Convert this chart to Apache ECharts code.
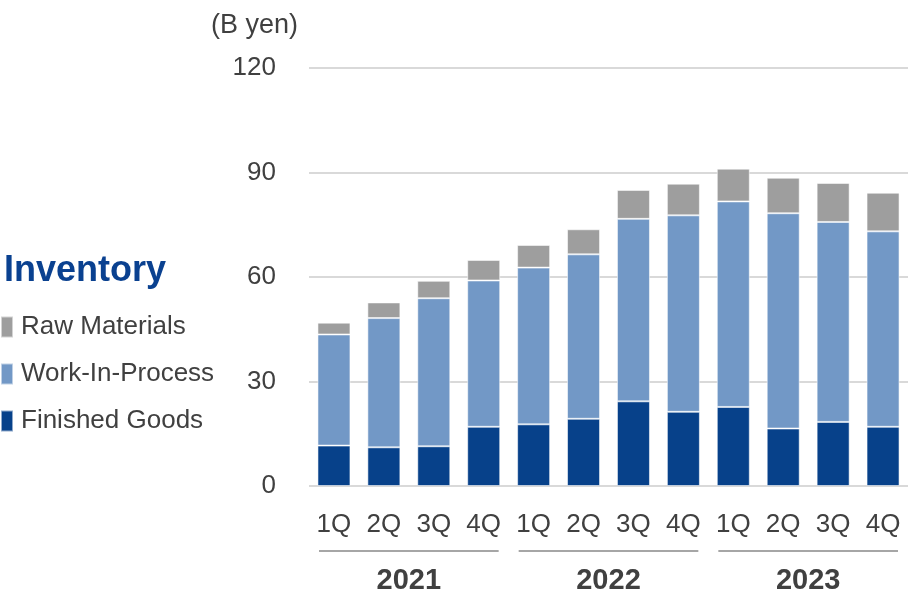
<!DOCTYPE html>
<html>
<head>
<meta charset="utf-8">
<script src="https://cdn.jsdelivr.net/npm/echarts@6/dist/echarts.min.js"></script>
<style>
  html, body { margin: 0; padding: 0; background: #ffffff; }
  #chart { width: 912px; height: 595px; }
</style>
</head>
<body>
<div id="chart"></div>
<script>
// Quarterly inventory breakdown, billions of yen
const quarters = ['1Q', '2Q', '3Q', '4Q', '1Q', '2Q', '3Q', '4Q', '1Q', '2Q', '3Q', '4Q'];
const years = ['2021', '2022', '2023'];
const finishedGoods = [11.6, 11.1, 11.4, 17.0, 17.7, 19.3, 24.3, 21.3, 22.7, 16.5, 18.4, 17.0];
const workInProcess = [31.9, 37.1, 42.5, 42.0, 45.0, 47.2, 52.4, 56.4, 59.0, 61.8, 57.4, 56.1];
const rawMaterials = [3.4, 4.5, 5.0, 5.9, 6.5, 7.2, 8.3, 9.1, 9.4, 10.2, 11.2, 11.1];
const yTicks = { min: 0, max: 120, interval: 30 };

const FONT = '"Liberation Sans", Arial, sans-serif';
const TEXT = '#404040';

const chart = echarts.init(document.getElementById('chart'), null, { renderer: 'canvas' });

const segBorder = { borderColor: 'rgba(255,255,255,0.55)', borderWidth: 1 };

chart.setOption({
  animation: false,
  textStyle: { fontFamily: FONT },
  title: [
    {
      text: 'Inventory', left: -1, top: 248,
      textStyle: { fontFamily: FONT, fontSize: 36, fontWeight: 'bold', color: '#0a4190' }
    },
    {
      text: '(B yen)', right: 609, top: 7,
      textStyle: { fontFamily: FONT, fontSize: 27, fontWeight: 'normal', color: TEXT }
    }
  ],
  legend: {
    data: ['Raw Materials', 'Work-In-Process', 'Finished Goods'],
    orient: 'vertical', left: 0, top: 314, padding: 0,
    itemWidth: 12, itemHeight: 21, itemGap: 21,
    icon: 'rect',
    textStyle: { fontFamily: FONT, fontSize: 26, color: TEXT, padding: [0, 0, 0, 3] },
    selectedMode: false
  },
  grid: { left: 309, top: 68, width: 599, height: 418 },
  xAxis: [
    {
      type: 'category', data: quarters,
      axisLine: { show: false }, axisTick: { show: false },
      axisLabel: { fontFamily: FONT, fontSize: 26, color: TEXT, margin: 26 }
    },
    {
      type: 'category', data: years, position: 'bottom', offset: 72,
      axisLine: { show: false }, axisTick: { show: false },
      axisLabel: { fontFamily: FONT, fontSize: 29, fontWeight: 'bold', color: TEXT, margin: 8 }
    }
  ],
  yAxis: {
    type: 'value', min: yTicks.min, max: yTicks.max, interval: yTicks.interval,
    axisLine: { show: false }, axisTick: { show: false },
    axisLabel: { fontFamily: FONT, fontSize: 26, color: TEXT, margin: 33 },
    splitLine: { lineStyle: { color: '#d9d9d9', width: 2 } }
  },
  series: [
    { name: 'Finished Goods', type: 'bar', stack: 'inv', barWidth: 33, data: finishedGoods,
      itemStyle: Object.assign({ color: '#07418a' }, segBorder) },
    { name: 'Work-In-Process', type: 'bar', stack: 'inv', barWidth: 33, data: workInProcess,
      itemStyle: Object.assign({ color: '#7298c6' }, segBorder) },
    { name: 'Raw Materials', type: 'bar', stack: 'inv', barWidth: 33, data: rawMaterials,
      itemStyle: Object.assign({ color: '#9e9e9e' }, segBorder) }
  ]
});

// Separator rule under each year's four quarters, placed from the category axis
const lines = [];
const band = chart.convertToPixel({ xAxisIndex: 0 }, 1) - chart.convertToPixel({ xAxisIndex: 0 }, 0);
years.forEach((y, i) => {
  const first = chart.convertToPixel({ xAxisIndex: 0 }, i * 4);
  const last = chart.convertToPixel({ xAxisIndex: 0 }, i * 4 + 3);
  const yPix = chart.convertToPixel({ yAxisIndex: 0 }, 0) + 65;
  lines.push({
    type: 'line',
    shape: { x1: first - band / 2 + 10, y1: yPix, x2: last + band / 2 - 10, y2: yPix },
    style: { stroke: '#a6a6a6', lineWidth: 2 }
  });
});
chart.setOption({ graphic: lines });
</script>
</body>
</html>
